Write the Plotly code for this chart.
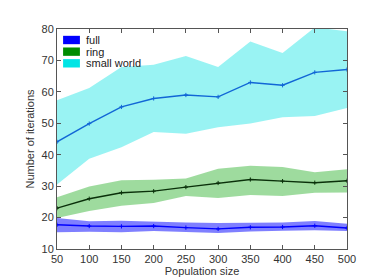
import plotly.graph_objects as go

pop = [50, 100, 150, 200, 250, 300, 350, 400, 450, 500]

full_mean = [17.7, 17.3, 17.2, 17.3, 16.8, 16.4, 16.9, 17.0, 17.4, 16.7]
full_upper = [19.9, 18.8, 19.0, 18.6, 18.4, 18.3, 18.4, 18.4, 18.9, 18.0]
full_lower = [15.3, 15.5, 15.3, 15.7, 15.5, 15.1, 15.6, 15.8, 16.0, 15.7]

ring_mean = [23.0, 26.0, 27.9, 28.4, 29.7, 31.0, 32.1, 31.6, 31.1, 31.7]
ring_upper = [26.5, 29.9, 31.9, 32.0, 32.4, 35.5, 36.5, 36.1, 34.4, 35.4]
ring_lower = [19.9, 22.1, 23.8, 24.6, 26.9, 26.2, 27.2, 26.9, 27.9, 28.0]

sw_mean = [44.1, 49.9, 55.2, 57.9, 59.0, 58.4, 63.0, 62.1, 66.2, 67.1]
sw_upper = [57.3, 61.2, 67.9, 68.6, 71.4, 67.9, 76.0, 72.4, 80.5, 79.3]
sw_lower = [30.5, 38.7, 42.4, 47.2, 46.7, 48.7, 49.9, 51.9, 52.3, 54.9]

legend_names = ["full", "ring", "small world"]

series = [
    (full_mean, full_upper, full_lower, "rgba(0,0,255,0.5)", "#0000ff", "#0000ff"),
    (ring_mean, ring_upper, ring_lower, "rgba(0,160,0,0.38)", "#008c00", "#0a300a"),
    (sw_mean, sw_upper, sw_lower, "rgba(0,225,225,0.4)", "#00e5e5", "#1166d6"),
]

fig = go.Figure()
for m, u, l, fillc, legc, linec in series:
    fig.add_trace(go.Scatter(
        x=pop + pop[::-1], y=u + l[::-1], fill="toself", fillcolor=fillc,
        mode="lines", line=dict(width=0), showlegend=False, hoverinfo="skip"))
for m, u, l, fillc, legc, linec in series:
    fig.add_trace(go.Scatter(
        x=pop, y=m, mode="lines+markers", line=dict(color=linec, width=1.4),
        marker=dict(symbol="cross-thin", size=3, line=dict(color=linec, width=1)),
        showlegend=False))

# manual legend (MATLAB-style compact)
leg_y = [0.950, 0.897, 0.844]
for name, (m, u, l, fillc, legc, linec), yc in zip(legend_names, series, leg_y):
    fig.add_shape(type="rect", xref="paper", yref="paper",
                  x0=0.021, x1=0.079, y0=yc - 0.019, y1=yc + 0.019,
                  fillcolor=legc, line=dict(width=0))
    fig.add_annotation(text=name, xref="paper", yref="paper", x=0.094, y=yc,
                       xanchor="left", yanchor="middle", showarrow=False,
                       font=dict(size=11, color="#222222"))

axis_common = dict(
    showgrid=False, zeroline=False, showline=True, linecolor="#555555", linewidth=1,
    mirror="ticks", ticks="inside", ticklen=4, tickcolor="#555555",
    tickfont=dict(family="Liberation Sans, Arial, sans-serif", size=11, color="#333333"),
)

fig.update_layout(
    width=374, height=279,
    margin=dict(l=49, r=35, t=21, b=32),
    paper_bgcolor="white", plot_bgcolor="white",
    font=dict(family="Liberation Sans, Arial, sans-serif", size=11, color="#333333"),
    showlegend=False,
    xaxis=dict(range=[50, 500], tickvals=pop,
               title=dict(text="Population size", standoff=2,
                          font=dict(size=11)), **axis_common),
    yaxis=dict(range=[10, 80], tickvals=[10, 20, 30, 40, 50, 60, 70, 80],
               title=dict(text="Number of iterations", standoff=4,
                          font=dict(size=11)), **axis_common),
)

fig.write_html("out.html")
